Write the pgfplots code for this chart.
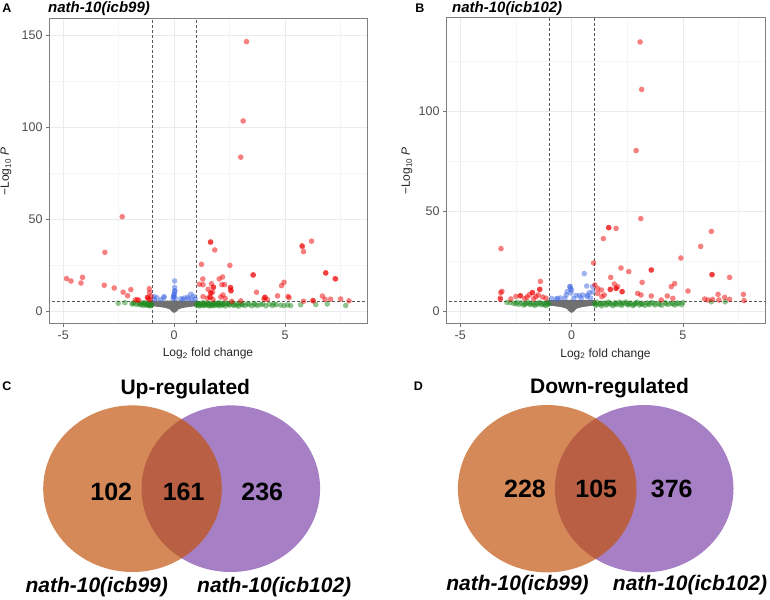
\documentclass[border=0pt]{standalone}
\usepackage{pgfplots}
\pgfplotsset{compat=1.18}
\usepackage{fontspec}
\setmainfont{Liberation Sans}
\definecolor{redtwo}{RGB}{238,0,0}
\definecolor{royal}{RGB}{65,105,225}
\definecolor{forest}{RGB}{34,139,34}
\definecolor{funnel}{RGB}{112,112,112}
\definecolor{vorange}{RGB}{194,83,11}
\definecolor{vpurple}{RGB}{125,68,169}
\definecolor{tickgray}{RGB}{77,77,77}
\pgfplotsset{
 volc/.style={
  scale only axis,
  xmin=-5.64, xmax=8.69,
  xtick={-5,0,5}, xticklabels={-5,0,5},
  minor xtick={-2.5,2.5,7.5},
  minor ytick={25,75,125},
  grid=both,
  major grid style={draw=black!8, line width=0.7pt},
  minor grid style={draw=black!4, line width=0.5pt},
  axis line style={draw=black!50, line width=1pt},
  major tick style={draw=black!55, line width=0.7pt},
  minor tick length=0pt,
  major tick length=3pt,
  tick align=outside,
  xtick pos=left, ytick pos=left,
  tick label style={text=tickgray, font=\fontsize{12.5}{12.5}\selectfont},
  xlabel={Log\textsubscript{2} fold change},
  ylabel={−Log\textsubscript{10} \textit{P}},
  label style={font=\fontsize{12}{12}\selectfont, text=black!85},
  xlabel style={at={(axis description cs:0.5,-0.098)}, anchor=center},
 },
 ptred/.style={only marks, color=redtwo, mark=*, mark size=2.8pt, mark options={fill=redtwo, draw opacity=0, line width=0pt, fill opacity=0.5}},
 ptblue/.style={only marks, color=royal, mark=*, mark size=2.8pt, mark options={fill=royal, draw opacity=0, line width=0pt, fill opacity=0.5}},
 ptgreen/.style={only marks, color=forest, mark=*, mark size=2.8pt, mark options={fill=forest, draw opacity=0, line width=0pt, fill opacity=0.5}},
 ptgray/.style={only marks, color=funnel, mark=*, mark size=2.8pt, mark options={fill=funnel, draw opacity=0, line width=0pt}},
 cut/.style={black!65, dashed, line width=0.6pt, dash pattern=on 3pt off 2pt},
}
\begin{document}
\begin{tikzpicture}
\path[use as bounding box] (0pt,0pt) rectangle (770pt,599pt);

% ---------------- Panel A ----------------
\begin{axis}[volc, at={(49pt,275pt)}, anchor=south west, width=318pt, height=305pt,
  ymin=-7.1, ymax=158.9, ytick={0,50,100,150}, yticklabels={0,50,100,150},
  ylabel style={at={(axis description cs:-0.135,0.5)}, anchor=center, rotate=0}]
\addplot[ptgray] coordinates {
(-1.0,4.2) (-0.9,4.2) (-0.9,3.9) (-0.8,4.2) (-0.8,3.8) (-0.7,4.2) (-0.7,3.6) (-0.6,4.2) (-0.6,3.5)
(-0.5,4.2) (-0.5,3.3) (-0.4,4.2) (-0.4,3.1) (-0.3,4.2) (-0.3,2.8) (-0.2,4.2) (-0.2,3.3) (-0.2,2.4)
(-0.1,4.2) (-0.1,3.0) (-0.1,1.7) (-0.05,4.2) (-0.05,2.6) (-0.05,1.1)
(0,4.2) (0,3.0) (0,1.7) (0,0.5)
(0.05,4.2) (0.05,2.6) (0.05,1.1) (0.1,4.2) (0.1,3.0) (0.1,1.7) (0.2,4.2) (0.2,3.3) (0.2,2.4)
(0.3,4.2) (0.3,2.8) (0.4,4.2) (0.4,3.1) (0.5,4.2) (0.5,3.3) (0.6,4.2) (0.6,3.5) (0.7,4.2) (0.7,3.6)
(0.8,4.2) (0.8,3.8) (0.9,4.2) (0.9,3.9) (1.0,4.2)
};
\addplot[ptgreen] coordinates {
(-2.52,4.2) (-2.22,4.5) (-1.9,3.8) (-1.8,4.5) (-1.7,3.5) (-1.6,4.0) (-1.5,3.4) (-1.45,4.4) (-1.4,3.0)
(-1.35,3.8) (-1.3,4.5) (-1.25,3.2) (-1.2,4.0) (-1.15,3.0) (-1.1,3.6) (-1.08,4.4) (-1.05,2.8) (-1.02,3.4)
(-1.85,4.1) (-1.55,3.7) (-1.38,4.1) (-1.28,3.5) (-1.18,3.7) (-1.12,2.9) (-1.04,3.9)
(1.02,3.0) (1.05,4.2) (1.1,3.5) (1.15,2.7) (1.2,4.0) (1.25,3.2) (1.3,4.5) (1.35,2.9) (1.4,3.7) (1.45,4.3)
(1.5,3.1) (1.55,4.2) (1.6,2.7) (1.65,3.8) (1.7,3.6) (1.75,2.9) (1.8,4.4) (1.85,3.0) (1.9,3.6) (1.95,3.8)
(2.0,4.4) (2.05,2.8) (2.1,4.3) (2.15,3.3) (2.2,3.4) (2.3,2.7) (2.35,4.1) (2.4,4.0) (2.5,3.2) (2.6,4.5)
(2.7,3.0) (2.8,3.8) (2.9,2.6) (3.0,4.2) (3.08,3.3) (3.2,3.0) (3.38,3.6) (3.5,2.8) (3.6,4.1) (3.76,3.0)
(3.9,3.5) (4.13,2.8) (4.3,3.7) (4.43,3.0) (4.5,3.8) (4.8,3.2) (4.95,2.9) (5.11,3.3) (5.25,2.9) (5.7,3.4)
(6.38,3.5) (6.9,3.8) (7.73,3.0)
(1.08,3.8) (1.18,3.3) (1.28,3.9) (1.38,3.3) (1.48,3.7) (1.58,3.4) (1.68,3.1) (1.78,3.7) (1.88,3.9) (1.98,3.2)
(2.12,3.7) (2.25,3.9) (2.45,3.5) (2.65,3.4) (2.85,3.3) (3.05,3.6) (3.3,3.9) (3.65,3.4) (4.0,3.8) (4.6,3.4)
};
\addplot[ptblue] coordinates {
(0.02,16.3) (0.02,12.8) (0.03,10.9) (0.03,10.9) (0,9.1) (0,9.1) (-0.02,7.8) (-0.02,7.8)
(-0.05,6.7) (0.05,6.9) (-0.78,7.2) (-0.47,7.2) (-0.9,7.8) (-0.45,7.8) (0.75,9.1) (0.87,8.0)
(0.6,7.5) (0.45,7.0) (0.3,6.6) (0.95,6.6) (-0.9,6.2) (0.65,6.7) (0.4,6.3) (0.8,6.2) (-0.6,6.1)
};
\addplot[ptred] coordinates {
(3.26,146.6) (3.11,103.4) (3.0,83.7) (-2.34,51.3) (-3.12,31.9) (1.64,37.5) (1.64,37.5)
(1.83,33.2) (5.78,35) (5.76,35.5) (5.83,32.3) (6.19,38)
(1.23,25.4) (2.51,24.8) (3.56,19.6) (3.56,19.6) (6.83,20.7) (6.83,20.7) (7.25,17.6)
(-4.85,17.6) (-4.65,16.3) (-4.13,18.3) (-4.2,15.2) (-3.15,14) (-2.7,12.5) (-2.3,10.2) (-2.1,8.3) (-1.95,11.6)
(1.29,17.4) (1.14,14.5) (1.30,14.3) (1.68,14.8) (2.03,17.4) (2.18,18.5) (1.53,11.8) (1.77,12.9) (1.77,12.9)
(2.15,14.3) (2.27,14.3) (2.54,12.7) (2.54,12.7) (1.65,9.8) (1.65,9.8) (1.73,10.2) (2.2,8.7) (3.71,10.2)
(4.84,13.8) (4.95,15.6) (4.66,8.2) (5.13,7.9)
(-1.12,12.1) (-1.11,10) (-1.2,7.4) (-1.2,7.4) (-1.05,7.9) (-1.66,6.2) (-1.6,5.8) (-1.75,6) (-1.15,6.5) (-1.08,6.0)
(1.3,7.8) (1.5,7.0) (1.62,7.5) (1.62,7.5) (1.75,6.3) (2.1,7.6) (2.3,6.8) (2.56,11) (2.56,11) (2.6,5.2) (3.0,5.5)
(4.09,7.4) (4.09,7.4) (4.05,6.4) (4.2,6.2) (5.18,7.2) (5.83,5.3) (6.25,5.7) (6.27,5.5) (6.68,8.1) (6.8,6.3)
(7.05,6.4) (7.5,6.5) (7.88,5.5) (7.28,17.4)
};
\addplot[cut] coordinates {(-1,-20) (-1,200)};
\addplot[cut] coordinates {(1,-20) (1,200)};
\addplot[cut] coordinates {(-10,5) (10,5)};
\end{axis}

% ---------------- Panel B ----------------
\begin{axis}[volc, at={(446pt,275pt)}, anchor=south west, width=319pt, height=306pt,
  ymin=-6.5, ymax=146.5, ytick={0,50,100}, yticklabels={0,50,100},
  ylabel style={at={(axis description cs:-0.122,0.5)}, anchor=center, rotate=0}]
\addplot[ptgray] coordinates {
(-1.0,4.2) (-0.9,4.2) (-0.9,3.9) (-0.8,4.2) (-0.8,3.8) (-0.7,4.2) (-0.7,3.6) (-0.6,4.2) (-0.6,3.5)
(-0.5,4.2) (-0.5,3.3) (-0.4,4.2) (-0.4,3.1) (-0.3,4.2) (-0.3,2.8) (-0.2,4.2) (-0.2,3.3) (-0.2,2.4)
(-0.1,4.2) (-0.1,3.0) (-0.1,1.7) (-0.05,4.2) (-0.05,2.6) (-0.05,1.1)
(0,4.2) (0,3.0) (0,1.7) (0,0.5)
(0.05,4.2) (0.05,2.6) (0.05,1.1) (0.1,4.2) (0.1,3.0) (0.1,1.7) (0.2,4.2) (0.2,3.3) (0.2,2.4)
(0.3,4.2) (0.3,2.8) (0.4,4.2) (0.4,3.1) (0.5,4.2) (0.5,3.3) (0.6,4.2) (0.6,3.5) (0.7,4.2) (0.7,3.6)
(0.8,4.2) (0.8,3.8) (0.9,4.2) (0.9,3.9) (1.0,4.2)
};
\addplot[ptgreen] coordinates {
(-2.75,4.2) (-2.6,3.8) (-2.45,4.4) (-2.35,3.3) (-2.25,4.0) (-2.15,3.0) (-2.05,3.7) (-1.95,4.4) (-1.85,3.2)
(-1.75,3.9) (-1.65,2.8) (-1.55,3.6) (-1.45,4.3) (-1.35,3.1) (-1.25,3.8) (-1.15,2.7) (-1.1,4.4) (-1.05,3.3)
(-2.5,3.6) (-2.1,3.4) (-1.9,3.6) (-1.7,3.4) (-1.5,3.5) (-1.3,3.6) (-1.2,3.2) (-1.03,3.9) (-2.9,4.3)
(1.02,3.8) (1.08,2.8) (1.15,4.4) (1.25,3.3) (1.35,2.6) (1.45,4.0) (1.55,3.0) (1.65,4.5) (1.75,3.5) (1.85,2.7)
(1.95,4.1) (2.05,3.2) (2.15,4.4) (2.25,2.8) (2.35,3.7) (2.45,4.5) (2.55,3.1) (2.65,4.0) (2.75,2.7) (2.85,3.6)
(2.95,4.4) (3.05,3.0) (3.15,3.9) (3.3,2.8) (3.45,3.6) (3.6,4.3) (3.75,3.0) (3.9,3.8) (4.05,2.9) (4.2,4.2)
(4.35,3.3) (4.5,3.9) (4.65,3.0) (4.8,3.6) (4.95,3.2) (6.28,4.6) (6.9,4.6) (1.3,3.9) (1.6,3.4) (1.9,3.3)
(2.2,3.5) (2.5,3.4) (2.8,3.2) (3.2,3.4) (3.5,3.2)
(1.12,3.4) (1.4,3.6) (1.7,3.9) (2.0,3.7) (2.3,4.0) (2.6,3.6) (2.9,3.9) (3.1,3.5) (3.4,4.0) (3.7,3.7)
(3.95,3.3) (4.25,3.6) (4.55,3.5) (4.75,4.0) (5.0,4.2)
};
\addplot[ptblue] coordinates {
(0.57,18.7) (0.68,12.5) (-0.07,12.2) (-0.07,12.2) (-0.05,11) (0.95,12.2) (0,10.5) (-0.2,9.7) (-0.03,9)
(0.8,9.2) (0.95,9.5) (0.5,8.0) (0.72,8.0) (-0.24,8.0) (0.35,7.7) (0.7,7.2) (-0.69,6.0) (-0.63,6.3)
(-0.9,6.3) (-0.5,6.5) (0.1,6.3) (0.85,6.5) (0.43,6.3) (0.2,7.8) (-0.3,6.4)
};
\addplot[ptred] coordinates {
(3.08,134.5) (3.15,110.8) (2.9,80.2) (3.11,46.2) (1.67,41.7) (1.67,41.7) (2.0,41.3) (1.43,36.2) (-3.17,31.2)
(5.8,32.3) (6.28,39.8) (4.91,26.5) (0.99,24) (2.22,21.5) (2.57,19.7) (3.58,20.5) (3.58,20.5) (1.76,16.8)
(3.17,14.3) (6.31,18.2) (6.31,18.2) (7.1,16.8) (-1.4,14.8) (-3.18,9.2) (-3.13,9.8) (-3.2,6.5)
(1.05,13) (1.17,11.3) (1.34,10.5) (1.47,8.0) (1.17,8.8) (1.36,7.2) (1.92,13.5) (2.0,11.3) (2.0,11.3)
(2.07,12.2) (2.27,9.7) (2.27,9.7) (1.74,10.8) (1.74,10.8) (2.97,8.8) (3.12,8.0) (3.58,7.5) (4.03,5.5)
(4.3,7.5) (4.55,6.3) (4.48,12.2) (4.63,13.7) (5.23,10.0) (5.98,6.0) (6.13,5.5) (6.33,5.8) (6.58,8.3)
(6.62,5.5) (6.88,6.8) (7.1,5.8) (7.72,8.3) (7.75,5.2)
(-1.76,9.2) (-1.76,9.2) (-1.43,10.8) (-1.43,10.8) (-2.73,6) (-3.2,5.8) (-2.5,7.3) (-2.3,7.6) (-2.3,7.6)
(-2.0,7.0) (-1.9,8.1) (-1.6,7.2) (-1.5,8.0) (-1.3,7.0) (-1.15,6.4) (-2.1,6.2) (-1.7,6.1)
};
\addplot[cut] coordinates {(-1,-20) (-1,200)};
\addplot[cut] coordinates {(1,-20) (1,200)};
\addplot[cut] coordinates {(-10,5) (10,5)};
\end{axis}

% ---------------- Venn diagrams ----------------
\begin{axis}[at={(0pt,0pt)}, anchor=origin, x=1pt, y=1pt, xmin=0, xmax=770, ymin=0, ymax=599,
  hide axis, clip=false]
\addplot[only marks, color=vpurple, mark=*, mark size=89.3pt, mark options={fill=vpurple, draw opacity=0, line width=0pt, yscale=0.933, fill opacity=0.685}] coordinates {(230.8,110.3)};
\addplot[only marks, color=vorange, mark=*, mark size=89.3pt, mark options={fill=vorange, draw opacity=0, line width=0pt, yscale=0.933, fill opacity=0.685}] coordinates {(132.5,110.3)};
\addplot[only marks, color=vpurple, mark=*, mark size=89.3pt, mark options={fill=vpurple, draw opacity=0, line width=0pt, yscale=0.937, fill opacity=0.685}] coordinates {(644.2,110.3)};
\addplot[only marks, color=vorange, mark=*, mark size=89.3pt, mark options={fill=vorange, draw opacity=0, line width=0pt, yscale=0.937, fill opacity=0.685}] coordinates {(547.2,110.3)};
\end{axis}

% titles and labels
\node[font=\fontsize{12.5}{12.5}\selectfont\bfseries] at (7pt,591pt) {A};
\node[anchor=west, font=\fontsize{15}{15}\selectfont\bfseries\itshape, inner sep=0pt] at (48pt,590.5pt) {nath-10(icb99)};
\node[font=\fontsize{12.5}{12.5}\selectfont\bfseries] at (420pt,591pt) {B};
\node[anchor=west, font=\fontsize{15}{15}\selectfont\bfseries\itshape, inner sep=0pt] at (452pt,590.5pt) {nath-10(icb102)};

\node[font=\fontsize{12.5}{12.5}\selectfont\bfseries] at (7pt,212.3pt) {C};
\node[font=\fontsize{21}{21}\selectfont\bfseries] at (185.3pt,210pt) {Up-regulated};
\node[font=\fontsize{25}{25}\selectfont\bfseries] at (111.3pt,107.3pt) {102};
\node[font=\fontsize{25}{25}\selectfont\bfseries] at (183.7pt,107.3pt) {161};
\node[font=\fontsize{25}{25}\selectfont\bfseries] at (262.3pt,107.3pt) {236};
\node[font=\fontsize{21}{21}\selectfont\bfseries\itshape] at (96.7pt,12.3pt) {nath-10(icb99)};
\node[font=\fontsize{21}{21}\selectfont\bfseries\itshape] at (274.2pt,12.3pt) {nath-10(icb102)};

\node[font=\fontsize{12.5}{12.5}\selectfont\bfseries] at (418.3pt,212.3pt) {D};
\node[font=\fontsize{21}{21}\selectfont\bfseries] at (609.5pt,210.7pt) {Down-regulated};
\node[font=\fontsize{25}{25}\selectfont\bfseries] at (525pt,110pt) {228};
\node[font=\fontsize{25}{25}\selectfont\bfseries] at (596.2pt,110pt) {105};
\node[font=\fontsize{25}{25}\selectfont\bfseries] at (671.7pt,110pt) {376};
\node[font=\fontsize{21}{21}\selectfont\bfseries\itshape] at (517.5pt,14pt) {nath-10(icb99)};
\node[font=\fontsize{21}{21}\selectfont\bfseries\itshape] at (690pt,14pt) {nath-10(icb102)};
\end{tikzpicture}
\end{document}
